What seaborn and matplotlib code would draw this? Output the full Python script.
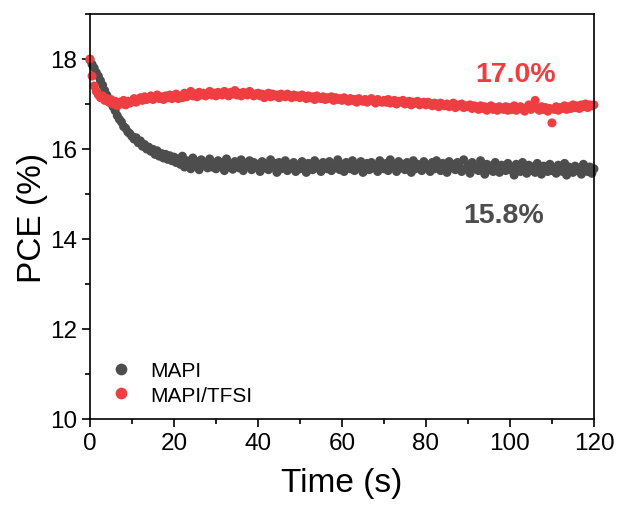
import numpy as np
import pandas as pd
import matplotlib
matplotlib.use("Agg")
import matplotlib.pyplot as plt
import seaborn as sns
from matplotlib.ticker import MultipleLocator

# time grid (s), sampled every 0.5 s
time_s = np.arange(0, 120.01, 0.5)

mapi = [
    17.98, 17.88, 17.80, 17.70, 17.62, 17.52, 17.42, 17.30, 17.20, 17.12, 17.02, 16.94, 16.85, 16.74, 16.66, 16.60, 16.50, 16.46, 16.38, 16.34,
    16.28, 16.22, 16.25, 16.14, 16.18, 16.06, 16.10, 16.00, 16.04, 15.95, 15.99, 15.88, 15.96, 15.84, 15.90, 15.80, 15.88, 15.77, 15.85, 15.74,
    15.82, 15.70, 15.78, 15.66, 15.84, 15.60, 15.74, 15.68, 15.56, 15.80, 15.62, 15.72, 15.54, 15.76, 15.64, 15.70, 15.58, 15.78, 15.60, 15.68,
    15.56, 15.74, 15.62, 15.70, 15.52, 15.78, 15.60, 15.66, 15.55, 15.72, 15.64, 15.58, 15.76, 15.52, 15.68, 15.62, 15.74, 15.54, 15.70, 15.60,
    15.66, 15.50, 15.72, 15.58, 15.64, 15.54, 15.76, 15.60, 15.68, 15.48, 15.70, 15.56, 15.62, 15.74, 15.52, 15.66, 15.58, 15.70, 15.50, 15.64,
    15.56, 15.72, 15.60, 15.48, 15.68, 15.62, 15.54, 15.74, 15.58, 15.66, 15.50, 15.70, 15.60, 15.56, 15.72, 15.52, 15.64, 15.58, 15.76, 15.54,
    15.66, 15.50, 15.70, 15.60, 15.56, 15.74, 15.52, 15.64, 15.58, 15.72, 15.48, 15.62, 15.68, 15.54, 15.70, 15.58, 15.64, 15.50, 15.74, 15.60,
    15.56, 15.68, 15.52, 15.76, 15.60, 15.64, 15.50, 15.72, 15.58, 15.66, 15.54, 15.70, 15.62, 15.48, 15.74, 15.56, 15.66, 15.60, 15.52, 15.72,
    15.58, 15.64, 15.50, 15.70, 15.56, 15.74, 15.60, 15.52, 15.68, 15.62, 15.48, 15.72, 15.58, 15.66, 15.54, 15.70, 15.60, 15.50, 15.76, 15.56,
    15.64, 15.46, 15.70, 15.56, 15.60, 15.52, 15.74, 15.58, 15.44, 15.66, 15.54, 15.62, 15.50, 15.70, 15.56, 15.48, 15.64, 15.58, 15.52, 15.68,
    15.54, 15.60, 15.42, 15.66, 15.56, 15.50, 15.70, 15.58, 15.46, 15.64, 15.52, 15.60, 15.48, 15.68, 15.56, 15.44, 15.62, 15.54, 15.50, 15.66,
    15.52, 15.58, 15.46, 15.64, 15.54, 15.50, 15.68, 15.42, 15.60, 15.56, 15.48, 15.62, 15.52, 15.58, 15.44, 15.66, 15.54, 15.50, 15.60, 15.46,
    15.56,
]

mapi_tfsi = [
    18.00, 17.62, 17.40, 17.28, 17.20, 17.14, 17.18, 17.08, 17.12, 17.04, 17.10, 17.00, 17.06, 16.96, 17.04, 17.00, 17.08, 16.98, 17.06, 17.02,
    17.06, 17.12, 17.04, 17.10, 17.14, 17.08, 17.16, 17.10, 17.12, 17.18, 17.10, 17.14, 17.20, 17.12, 17.16, 17.10, 17.18, 17.14, 17.20, 17.12,
    17.16, 17.22, 17.12, 17.18, 17.14, 17.24, 17.16, 17.20, 17.28, 17.18, 17.22, 17.16, 17.26, 17.20, 17.24, 17.18, 17.22, 17.28, 17.20, 17.24,
    17.18, 17.26, 17.22, 17.20, 17.28, 17.24, 17.18, 17.26, 17.22, 17.30, 17.20, 17.24, 17.18, 17.26, 17.22, 17.20, 17.28, 17.24, 17.18, 17.22,
    17.24, 17.18, 17.22, 17.14, 17.20, 17.24, 17.16, 17.22, 17.18, 17.20, 17.14, 17.22, 17.18, 17.16, 17.22, 17.18, 17.14, 17.20, 17.16, 17.18,
    17.14, 17.20, 17.16, 17.12, 17.18, 17.14, 17.16, 17.10, 17.18, 17.14, 17.12, 17.16, 17.10, 17.14, 17.12, 17.16, 17.08, 17.14, 17.10, 17.12,
    17.08, 17.14, 17.10, 17.06, 17.12, 17.08, 17.10, 17.04, 17.12, 17.08, 17.06, 17.10, 17.04, 17.08, 17.12, 17.06, 17.02, 17.10, 17.06, 17.04,
    17.08, 17.04, 17.10, 17.02, 17.06, 17.08, 17.00, 17.06, 17.04, 17.08, 17.00, 17.04, 17.06, 16.98, 17.04, 17.02, 17.06, 16.98, 17.02, 17.04,
    16.98, 17.04, 17.00, 16.96, 17.02, 17.00, 16.94, 17.02, 16.98, 16.96, 17.00, 16.94, 16.98, 17.02, 16.92, 16.98, 16.96, 17.00, 16.92, 16.96,
    16.94, 16.98, 16.90, 16.96, 16.92, 16.88, 16.96, 16.90, 16.94, 16.86, 16.92, 16.96, 16.88, 16.92, 16.86, 16.94, 16.90, 16.88, 16.94, 16.86,
    16.92, 16.88, 16.96, 16.86, 16.90, 16.94, 16.88, 16.84, 16.92, 16.98, 16.88, 16.94, 17.08, 16.90, 16.86, 16.94, 16.88, 16.92, 16.84, 16.90,
    16.58, 16.88, 16.94, 16.86, 16.92, 16.90, 16.96, 16.88, 16.94, 16.90, 16.98, 16.92, 16.96, 16.90, 16.98, 16.94, 17.00, 16.92, 16.98, 16.96,
    16.98,
]

series_names = ["MAPI", "MAPI/TFSI"]
colors = ["#4D4D4D", "#EF3E42"]
annotations = ["15.8%", "17.0%"]
x_ticks = [0, 20, 40, 60, 80, 100, 120]
y_ticks = [10, 12, 14, 16, 18]

df = pd.concat([
    pd.DataFrame({"Time": time_s, "PCE": mapi, "Sample": series_names[0]}),
    pd.DataFrame({"Time": time_s, "PCE": mapi_tfsi, "Sample": series_names[1]}),
], ignore_index=True)

sns.set_theme(style="ticks")
plt.rcParams["font.family"] = ["Liberation Sans", "DejaVu Sans"]
plt.rcParams["text.color"] = "black"
plt.rcParams["axes.labelcolor"] = "black"

fig = plt.figure(figsize=(6.18, 5.10), dpi=100)
ax = fig.add_axes([0.1456, 0.1765, 0.8155, 0.7941])

sns.scatterplot(data=df, x="Time", y="PCE", hue="Sample", hue_order=series_names,
                palette=dict(zip(series_names, colors)), s=42, linewidth=0,
                alpha=1, ax=ax, clip_on=False, legend=True)

ax.set_xlim(0, 120)
ax.set_ylim(10, 19)
ax.set_xticks(x_ticks)
ax.set_yticks(y_ticks)
ax.xaxis.set_minor_locator(MultipleLocator(10))
ax.yaxis.set_minor_locator(MultipleLocator(1))
ax.tick_params(which="major", direction="out", length=6, width=1.2, labelsize=17.5,
               colors="black", labelcolor="black")
ax.tick_params(which="minor", direction="out", length=3.5, width=1.2, colors="black")
ax.tick_params(top=False, right=False, which="both")
for sp in ax.spines.values():
    sp.set_linewidth(1.2)
    sp.set_color("black")

ax.set_xlabel("Time (s)", fontsize=24, labelpad=9, color="black")
ax.set_ylabel("PCE (%)", fontsize=24, labelpad=1, color="black")

ax.text(101.3, 17.66, annotations[1], color=colors[1], fontsize=20.5, fontweight="bold",
        ha="center", va="center")
ax.text(98.5, 14.54, annotations[0], color=colors[0], fontsize=20.5, fontweight="bold",
        ha="center", va="center")

leg = ax.legend(loc="lower left", bbox_to_anchor=(-0.012, -0.016), frameon=False, fontsize=15,
                markerscale=1.3, handletextpad=0.6, labelspacing=0.25, borderaxespad=0.6,
                handlelength=1.6)
for t in leg.get_texts():
    t.set_color("black")

fig.savefig("out.png", dpi=100)
